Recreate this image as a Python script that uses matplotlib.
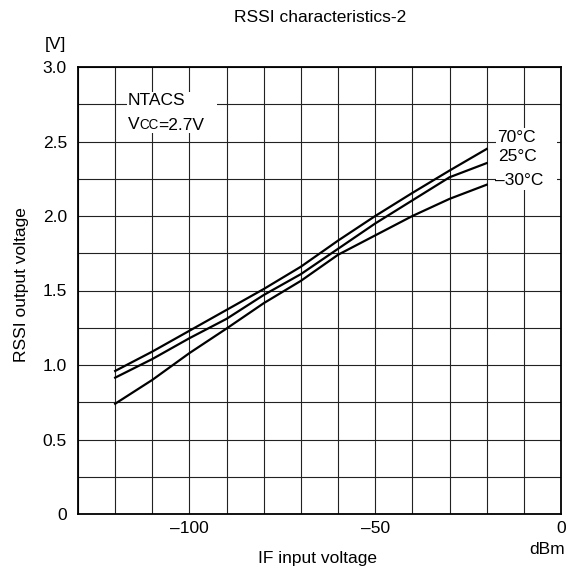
import numpy as np
import matplotlib
matplotlib.use('Agg')
import matplotlib.pyplot as plt
from matplotlib.patches import Rectangle

plt.rcParams['font.family'] = ['Liberation Sans', 'DejaVu Sans']

# IF input level (dBm) and RSSI output (V)
if_input = [-120, -110, -100, -90, -80, -70, -60, -50, -40, -30, -20]
rssi_70c = [0.96, 1.09, 1.23, 1.37, 1.51, 1.66, 1.835, 2.0, 2.155, 2.305, 2.45]
rssi_25c = [0.915, 1.04, 1.18, 1.31, 1.47, 1.61, 1.78, 1.95, 2.105, 2.26, 2.355]
rssi_m30c = [0.74, 0.90, 1.08, 1.245, 1.415, 1.565, 1.74, 1.87, 2.0, 2.115, 2.21]

x_ticks = [-100, -50, 0]
x_tick_labels = ['\u2013100', '\u201350', '0']
y_ticks = [0, 0.5, 1.0, 1.5, 2.0, 2.5, 3.0]
y_tick_labels = ['0', '0.5', '1.0', '1.5', '2.0', '2.5', '3.0']
temp_labels = ['70\u00b0C', '25\u00b0C', '\u201330\u00b0C']

fs = 12.5
fig = plt.figure(figsize=(5.71, 5.73), dpi=100)
ax = fig.add_axes([78 / 571, 1 - 514 / 573, 483 / 571, 447 / 573])

ax.set_xlim(-130, 0)
ax.set_ylim(0, 3.0)

# grid
ax.set_xticks(np.arange(-130, 1, 10), minor=True)
ax.set_yticks(np.arange(0, 3.01, 0.25), minor=True)
ax.set_xticks(x_ticks)
ax.set_xticklabels(x_tick_labels, fontsize=fs)
ax.set_yticks(y_ticks)
ax.set_yticklabels(y_tick_labels, fontsize=fs)
ax.tick_params(which='both', length=0)
ax.tick_params(axis='y', pad=8)
ax.tick_params(axis='x', pad=5)
ax.grid(True, which='both', color='#222222', lw=0.8)
ax.set_axisbelow(True)
for sp in ax.spines.values():
    sp.set_linewidth(1.3)
    sp.set_zorder(5)

# white boxes behind the annotation text
ax.add_patch(Rectangle((0.101, 0.852), 0.187, 0.092, transform=ax.transAxes,
                       facecolor='white', edgecolor='none', zorder=1.5))
ax.add_patch(Rectangle((0.865, 0.725), 0.127, 0.139, transform=ax.transAxes,
                       facecolor='white', edgecolor='none', zorder=1.5))

for vals in (rssi_70c, rssi_25c, rssi_m30c):
    ax.plot(if_input, vals, color='black', lw=1.6, zorder=3)

# temperature labels
for lab, xf, yf in zip(temp_labels, [0.868, 0.870, 0.863], [0.843, 0.799, 0.747]):
    ax.text(xf, yf, lab, transform=ax.transAxes, fontsize=fs, ha='left', va='center', zorder=4)

# NTACS / Vcc note
ax.text(0.103, 0.926, 'NTACS', transform=ax.transAxes, fontsize=fs, ha='left', va='center', zorder=4)
t1 = ax.text(0.103, 0.872, 'V', transform=ax.transAxes, fontsize=fs, ha='left', va='center', zorder=4)
t2 = ax.annotate('CC', xy=(1, 0), xycoords=t1, fontsize=fs * 0.78, ha='left', va='bottom', zorder=4)
ax.annotate('=2.7V', xy=(1, 0), xycoords=t2, xytext=(0, -0.6), textcoords='offset points',
            fontsize=fs, ha='left', va='bottom', zorder=4)

fig.text(320 / 571, 1 - 18 / 573, 'RSSI characteristics-2', fontsize=fs, ha='center', va='center')
fig.text(55 / 571, 1 - 45 / 573, '[V]', fontsize=fs, ha='center', va='center')
fig.text(22 / 571, 1 - 285 / 573, 'RSSI output voltage', fontsize=fs, ha='center', va='center',
         rotation=90)
fig.text(318 / 571, 1 - 558 / 573, 'IF input voltage', fontsize=fs, ha='center', va='center')
fig.text(565 / 571, 1 - 549 / 573, 'dBm', fontsize=fs, ha='right', va='center')

fig.savefig('out.png', dpi=100)
